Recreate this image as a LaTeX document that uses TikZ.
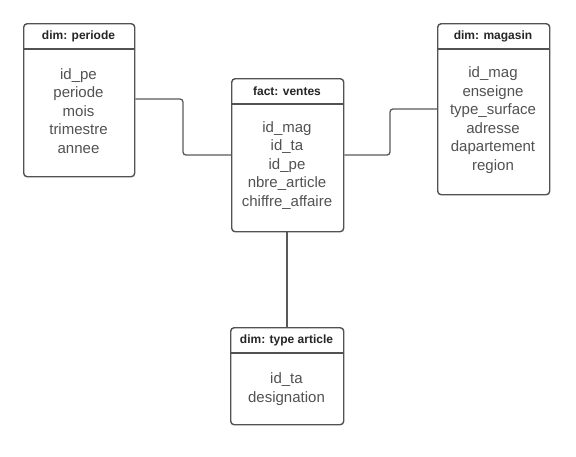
\documentclass[tikz,border=0pt]{standalone}
\usepackage{fontspec}
\setmainfont{Liberation Sans}
\begin{document}
\begin{tikzpicture}[x=1pt,y=-1pt,
  entity/.style={draw=black!68, line width=1.4pt, rounded corners=3.5pt, fill=white, inner sep=0pt, anchor=north west},
  ttl/.style={font=\fontsize{12}{14}\selectfont\bfseries, text=black!85, inner sep=0pt},
  body/.style={font=\fontsize{15}{18.5}\selectfont, text=black!68, align=center, inner sep=0pt},
  hdr/.style={draw=black!68, line width=1.2pt},
  conn/.style={draw=black!65, line width=1.3pt, rounded corners=3pt}]
\useasboundingbox (0,0) rectangle (576,456);
% periode
\node[entity, minimum width=111pt, minimum height=153pt] (p) at (23,23) {};
\draw[hdr] ([yshift=-26pt]p.north west) -- ([yshift=-26pt]p.north east);
\node[ttl] (pt) at (78.5,36) {dim: periode};
\node[body] (pb) at (78.5,111) {id\_pe\\periode\\mois\\trimestre\\annee};
% fact
\node[entity, minimum width=112pt, minimum height=153pt] (f) at (231,78) {};
\draw[hdr] ([yshift=-26pt]f.north west) -- ([yshift=-26pt]f.north east);
\node[ttl] (ft) at (287,91) {fact: ventes};
\node[body] (fb) at (287,165.5) {id\_mag\\id\_ta\\id\_pe\\nbre\_article\\chiffre\_affaire};
% magasin
\node[entity, minimum width=112pt, minimum height=171pt] (m) at (437,23) {};
\draw[hdr] ([yshift=-26pt]m.north west) -- ([yshift=-26pt]m.north east);
\node[ttl] (mt) at (493,36) {dim: magasin};
\node[body] (mb) at (493,120) {id\_mag\\enseigne\\type\_surface\\adresse\\dapartement\\region};
% type article
\node[entity, minimum width=113pt, minimum height=97pt] (t) at (230,327) {};
\draw[hdr] ([yshift=-26pt]t.north west) -- ([yshift=-26pt]t.north east);
\node[ttl] (tt) at (286.5,340) {dim: type article};
\node[body] (tb) at (286.5,389) {id\_ta\\designation};
% connectors
\coordinate (pa) at (p.east |- 0,99);
\coordinate (fa) at (f.west |- 0,155);
\coordinate (fb2) at (f.east |- 0,155);
\coordinate (ma) at (m.west |- 0,109);
\draw[conn] (pa) -- (183,99) -- (183,155) -- (fa);
\draw[conn] (fb2) -- (390,155) -- (390,109) -- (ma);
\draw[conn] (f.south -| 287,0) -- (t.north -| 287,0);
\end{tikzpicture}
\end{document}
